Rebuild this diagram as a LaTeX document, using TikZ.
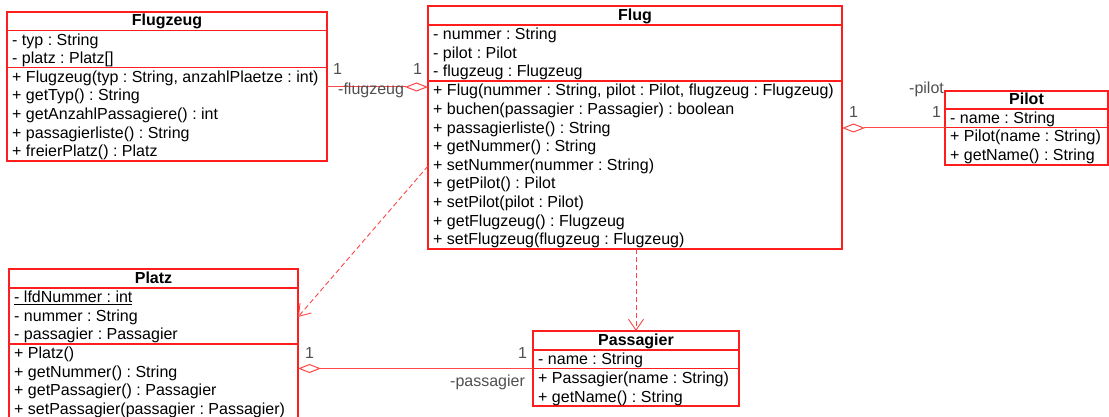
\documentclass[tikz,border=0pt]{standalone}
\usepackage{fontspec}
\setmainfont{Liberation Sans}
\usetikzlibrary{arrows.meta}
\definecolor{umlred}{RGB}{255,30,30}
\definecolor{linkred}{RGB}{255,70,70}
\definecolor{labelgray}{RGB}{80,80,80}
\tikzset{
  classbox/.style={draw=umlred, line width=1.2pt, inner sep=0pt, outer sep=0pt, anchor=north west},
  sepline/.style={draw=umlred, line width=1.2pt},
  txt/.style={inner sep=0pt, anchor=base west, font=\fontsize{16}{19}\selectfont\frenchspacing},
  ttl/.style={inner sep=0pt, anchor=base, font=\fontsize{16}{19}\selectfont\bfseries},
  lbl/.style={inner sep=0pt, anchor=base west, text=labelgray, font=\fontsize{16}{19}\selectfont},
  assoc/.style={draw=linkred, line width=1pt, -{Diamond[open,length=23pt,width=9pt]}},
  dep/.style={draw=linkred, line width=0.9pt, dash pattern=on 5pt off 3pt, -{Straight Barb[length=11pt,width=15pt]}}
}
\frenchspacing
\begin{document}
\begin{tikzpicture}[x=1pt,y=-1pt]
\useasboundingbox (0,0) rectangle (1109,417);
\fill[white] (0,0) rectangle (1109,417);

% ---------- Flugzeug ----------
\node[classbox, minimum width=320pt, minimum height=149pt] (flugzeug) at (7,12) {};
\draw[sepline] (7,30.7) -- (327,30.7);
\draw[sepline] (7,67.3) -- (327,67.3);
\node[ttl] (fzT) at (167,26) {Flugzeug};
\node[txt] (fz1) at (12,45.2) {- typ : String};
\node[txt] (fz2) at (12,63.8) {- platz : Platz[]};
\node[txt] (fz3) at (12,82.3) {+ Flugzeug(typ : String, anzahlPlaetze : int)};
\node[txt] (fz4) at (12,100.9) {+ getTyp() : String};
\node[txt] (fz5) at (12,119.5) {+ getAnzahlPassagiere() : int};
\node[txt] (fz6) at (12,138.1) {+ passagierliste() : String};
\node[txt] (fz7) at (12,156.7) {+ freierPlatz() : Platz};

% ---------- Flug ----------
\node[classbox, minimum width=414pt, minimum height=243pt] (flug) at (428,6) {};
\draw[sepline] (428,25) -- (842,25);
\draw[sepline] (428,81) -- (842,81);
\node[ttl] (flT) at (635,20.5) {Flug};
\node[txt] (fl1) at (433,39.5) {- nummer : String};
\node[txt] (fl2) at (433,58.1) {- pilot : Pilot};
\node[txt] (fl3) at (433,76.7) {- flugzeug : Flugzeug};
\node[txt] (fl4) at (433,96) {+ Flug(nummer : String, pilot : Pilot, flugzeug : Flugzeug)};
\node[txt] (fl5) at (433,114.6) {+ buchen(passagier : Passagier) : boolean};
\node[txt] (fl6) at (433,133.2) {+ passagierliste() : String};
\node[txt] (fl7) at (433,151.8) {+ getNummer() : String};
\node[txt] (fl8) at (433,170.4) {+ setNummer(nummer : String)};
\node[txt] (fl9) at (433,189) {+ getPilot() : Pilot};
\node[txt] (fl10) at (433,207.6) {+ setPilot(pilot : Pilot)};
\node[txt] (fl11) at (433,226.2) {+ getFlugzeug() : Flugzeug};
\node[txt] (fl12) at (433,244.8) {+ setFlugzeug(flugzeug : Flugzeug)};

% ---------- Pilot ----------
\node[classbox, minimum width=163pt, minimum height=74pt] (pilot) at (945,91) {};
\draw[sepline] (945,109) -- (1108,109);
\draw[sepline] (945,127.5) -- (1108,127.5);
\node[ttl] (piT) at (1026.5,105) {Pilot};
\node[txt] (pi1) at (950,123.5) {- name : String};
\node[txt] (pi2) at (950,142) {+ Pilot(name : String)};
\node[txt] (pi3) at (950,160.6) {+ getName() : String};

% ---------- Platz ----------
\node[classbox, minimum width=289pt, minimum height=160pt] (platz) at (9,269) {};
\draw[sepline] (9,288) -- (298,288);
\draw[sepline] (9,344) -- (298,344);
\node[ttl] (plT) at (153.5,283.5) {Platz};
\node[txt] (pl1) at (14,302.5) {\underline{- lfdNummer : int}};
\node[txt] (pl2) at (14,321.1) {- nummer : String};
\node[txt] (pl3) at (14,339.7) {- passagier : Passagier};
\node[txt] (pl4) at (14,358.7) {+ Platz()};
\node[txt] (pl5) at (14,377.3) {+ getNummer() : String};
\node[txt] (pl6) at (14,395.9) {+ getPassagier() : Passagier};
\node[txt] (pl7) at (14,414.5) {+ setPassagier(passagier : Passagier)};

% ---------- Passagier ----------
\node[classbox, minimum width=206pt, minimum height=75pt] (passagier) at (533,331) {};
\draw[sepline] (533,350) -- (739,350);
\draw[sepline] (533,368.5) -- (739,368.5);
\node[ttl] (paT) at (636,345.5) {Passagier};
\node[txt] (pa1) at (538,364.5) {- name : String};
\node[txt] (pa2) at (538,383.5) {+ Passagier(name : String)};
\node[txt] (pa3) at (538,402.1) {+ getName() : String};

% ---------- connectors ----------
\coordinate (yFz) at (0,87);
\coordinate (yPi) at (0,128);
\coordinate (yPa) at (0,368.5);
\coordinate (yDep) at (0,166);
\coordinate (yTip) at (0,317);
\coordinate (xDep) at (636,0);

\draw[assoc] (flugzeug.east |- yFz) -- (flug.west |- yFz);
\draw[assoc] (pilot.west |- yPi) -- (flug.east |- yPi);
\draw[assoc] (passagier.west |- yPa) -- (platz.east |- yPa);
\draw[dep] (flug.west |- yDep) -- (platz.east |- yTip);
\draw[dep] (flug.south -| xDep) -- (passagier.north -| xDep);

% ---------- labels ----------
\node[lbl] (m1) at (333,75) {1};
\node[lbl] (m2) at (413,75) {1};
\node[lbl] (r1) at (338,95) {-flugzeug};
\node[lbl] (m3) at (849,117.7) {1};
\node[lbl] (m4) at (932,117.7) {1};
\node[lbl] (r2) at (909,94) {-pilot};
\node[lbl] (m5) at (305,358) {1};
\node[lbl] (m6) at (518,358) {1};
\node[lbl] (r3) at (450,386.5) {-passagier};
\end{tikzpicture}
\end{document}
